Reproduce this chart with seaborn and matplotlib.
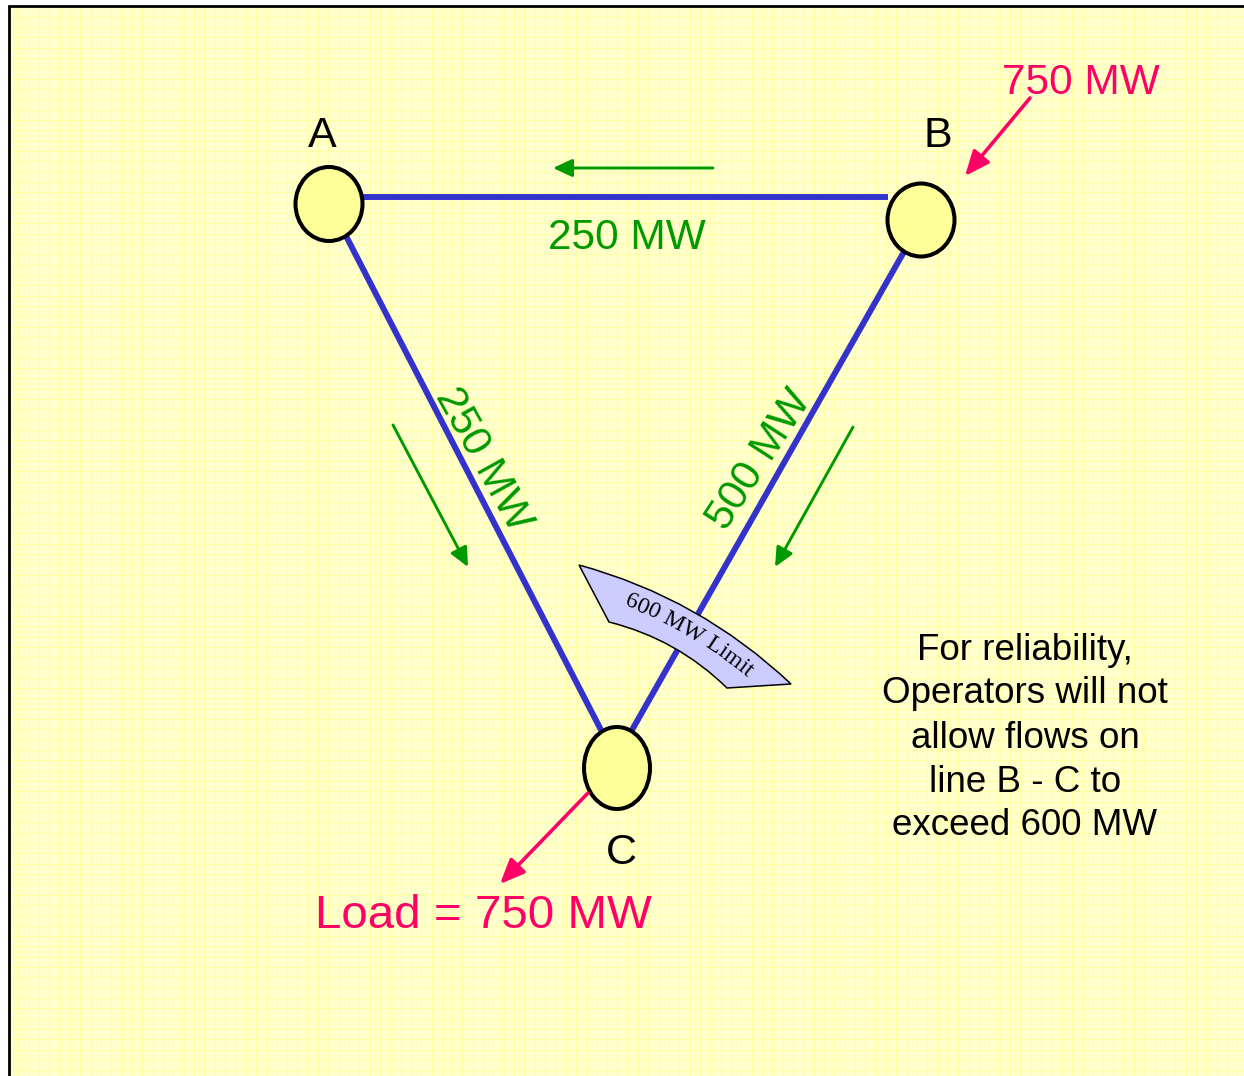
import numpy as np
import pandas as pd
import matplotlib
matplotlib.use("Agg")
import matplotlib.pyplot as plt
import seaborn as sns
from matplotlib.patches import Ellipse, Rectangle, PathPatch
from matplotlib.path import Path
from matplotlib.font_manager import FontProperties, findfont, get_font

# ---------------- data ----------------
node_names = ["A", "B", "C"]
node_x = [329, 921, 617]
node_y = [204, 220, 768]
node_w = [67, 67, 66]
node_h = [74, 73, 82]
node_label_x = [322, 938, 621]
node_label_y = [147, 147, 864]

line_names = ["A-B", "A-C", "B-C"]
line_x0 = [362, 346, 905]
line_y0 = [197, 236, 250]
line_x1 = [888, 601, 632]
line_y1 = [197, 730, 730]

flow_labels = ["250 MW", "250 MW", "500 MW"]
flow_label_x = [627, 473, 769]
flow_label_y = [249, 465, 466]
flow_label_rot = [0, -61, 57]

flow_arrow_x0 = [713, 393, 853]
flow_arrow_y0 = [168, 425, 427]
flow_arrow_x1 = [553, 468, 775]
flow_arrow_y1 = [168, 567, 567]

inj_arrow_x0 = [1030, 588]
inj_arrow_y0 = [98, 793]
inj_arrow_x1 = [965, 500]
inj_arrow_y1 = [176, 884]
inj_labels = ["750 MW", "Load = 750 MW"]
inj_label_x = [1081, 483]
inj_label_y = [94, 928]
inj_label_size = [30.5, 34.2]

note_lines = ["For reliability,", "Operators will not", "allow flows on",
              "line B - C to", "exceed 600 MW"]
note_x = 1025
note_baselines = [660, 703, 748, 792, 835]

limit_text = "600 MW Limit"
# banner outline: corner points and quadratic curve controls
banner_top = [(579, 565), (700, 598), (791, 684)]      # start, control, end
banner_bottom = [(727, 688), (677, 639), (609, 622)]   # start, control, end
limit_baseline = [(630, 608), (690, 632), (742, 673)]  # start, control, end

# ---------------- style ----------------
BG = "#FFFFCC"
GRID = "#FFFFA0"
BLUE = "#3333CC"
GREEN = "#009900"
PINK = "#FF0066"
NODE = "#FFFF99"
LAV = "#CCCCFF"

sns.set_theme(style="white")
plt.rcParams["font.family"] = ["Liberation Sans", "DejaVu Sans"]

W, H = 1244, 1076
fig = plt.figure(figsize=(W / 100, H / 100), dpi=100, facecolor="white")
ax = fig.add_axes([0, 0, 1, 1])
ax.set_facecolor("white")

# background panel with faint grid
ax.add_patch(Rectangle((10, 8), W - 10, H - 8, fc=BG, ec="none", zorder=0))
gx = np.arange(18.3, W, 10.33)
gy = np.arange(16.7, H, 10.33)
ax.vlines(gx, 8, H, color=GRID, lw=0.7, zorder=0.5)
ax.hlines(gy, 10, W, color=GRID, lw=0.7, zorder=0.5)
# border (left and top)
ax.plot([8.7, 8.7], [H, 5], color="black", lw=2.0, solid_capstyle="butt", zorder=1)
ax.plot([7.5, W], [6.3, 6.3], color="black", lw=2.0, solid_capstyle="butt", zorder=1)

# transmission lines via seaborn
rows = []
for n, x0, y0, x1, y1 in zip(line_names, line_x0, line_y0, line_x1, line_y1):
    rows.append({"line": n, "x": x0, "y": y0})
    rows.append({"line": n, "x": x1, "y": y1})
df_lines = pd.DataFrame(rows)
sns.lineplot(data=df_lines, x="x", y="y", units="line", estimator=None, sort=False,
             color=BLUE, lw=4.3, solid_capstyle="butt", ax=ax, zorder=2, legend=False)

# nodes
for x, y, w, h in zip(node_x, node_y, node_w, node_h):
    ax.add_patch(Ellipse((x, y), w, h, fc=NODE, ec="black", lw=2.9, zorder=3))
for n, x, y in zip(node_names, node_label_x, node_label_y):
    ax.text(x, y, n, fontsize=31, color="black", ha="center", va="baseline", zorder=4)

# flow arrows
for x0, y0, x1, y1 in zip(flow_arrow_x0, flow_arrow_y0, flow_arrow_x1, flow_arrow_y1):
    ax.annotate("", xy=(x1, y1), xytext=(x0, y0),
                arrowprops=dict(arrowstyle="-|>,head_length=0.58,head_width=0.27",
                                mutation_scale=20, lw=2.1, color=GREEN,
                                shrinkA=0, shrinkB=0), zorder=3)
for s, x, y, r in zip(flow_labels, flow_label_x, flow_label_y, flow_label_rot):
    ax.text(x, y, s, fontsize=30.5, color=GREEN, ha="center", va="baseline",
            rotation=r, rotation_mode="anchor", zorder=4)

# injection / load arrows
for x0, y0, x1, y1 in zip(inj_arrow_x0, inj_arrow_y0, inj_arrow_x1, inj_arrow_y1):
    ax.annotate("", xy=(x1, y1), xytext=(x0, y0),
                arrowprops=dict(arrowstyle="-|>,head_length=0.75,head_width=0.32",
                                mutation_scale=20, lw=2.6, color=PINK,
                                shrinkA=0, shrinkB=0), zorder=3)
for s, x, y, fs in zip(inj_labels, inj_label_x, inj_label_y, inj_label_size):
    ax.text(x, y, s, fontsize=fs, color=PINK, ha="center", va="baseline", zorder=4)

# note text
for s, y in zip(note_lines, note_baselines):
    ax.text(note_x, y, s, fontsize=26.5, color="black", ha="center", va="baseline", zorder=4)

# banner "600 MW Limit"
verts = [banner_top[0], banner_top[1], banner_top[2],
         banner_bottom[0], banner_bottom[1], banner_bottom[2], banner_top[0]]
codes = [Path.MOVETO, Path.CURVE3, Path.CURVE3,
         Path.LINETO, Path.CURVE3, Path.CURVE3, Path.CLOSEPOLY]
ax.add_patch(PathPatch(Path(verts, codes), fc=LAV, ec="black", lw=1.1, zorder=5))

# text laid out along the (extended) baseline curve
p0, c, p1 = (np.array(p, dtype=float) for p in limit_baseline)
t = np.linspace(-0.5, 1.5, 1200)
tt = t[:, None]
pts = (1 - tt) ** 2 * p0 + 2 * (1 - tt) * tt * c + tt ** 2 * p1
der = 2 * (1 - tt) * (c - p0) + 2 * tt * (p1 - c)
arc = np.concatenate([[0], np.cumsum(np.hypot(*np.diff(pts, axis=0).T))])
s_mid = np.interp(0.5, t, arc)
serif_size = 17
fp = FontProperties(family="Liberation Serif", size=serif_size)
ft = get_font(findfont(fp))
ft.set_size(serif_size, 100)
adv = np.array([ft.load_char(ord(ch)).linearHoriAdvance / 65536 for ch in limit_text])
start = s_mid - adv.sum() / 2
centers = start + np.cumsum(adv) - adv / 2
for ch, sc in zip(limit_text, centers):
    ti = np.interp(sc, arc, t)
    px = np.interp(ti, t, pts[:, 0])
    py = np.interp(ti, t, pts[:, 1])
    dx = np.interp(ti, t, der[:, 0])
    dy = np.interp(ti, t, der[:, 1])
    rot = np.degrees(np.arctan2(-dy, dx))
    ax.text(px, py, ch, fontproperties=fp, color="black", ha="center", va="baseline",
            rotation=rot, rotation_mode="anchor", zorder=6)

ax.set_xlim(0, W)
ax.set_ylim(H, 0)
ax.axis("off")
fig.savefig("out.png", dpi=100, facecolor="white")
